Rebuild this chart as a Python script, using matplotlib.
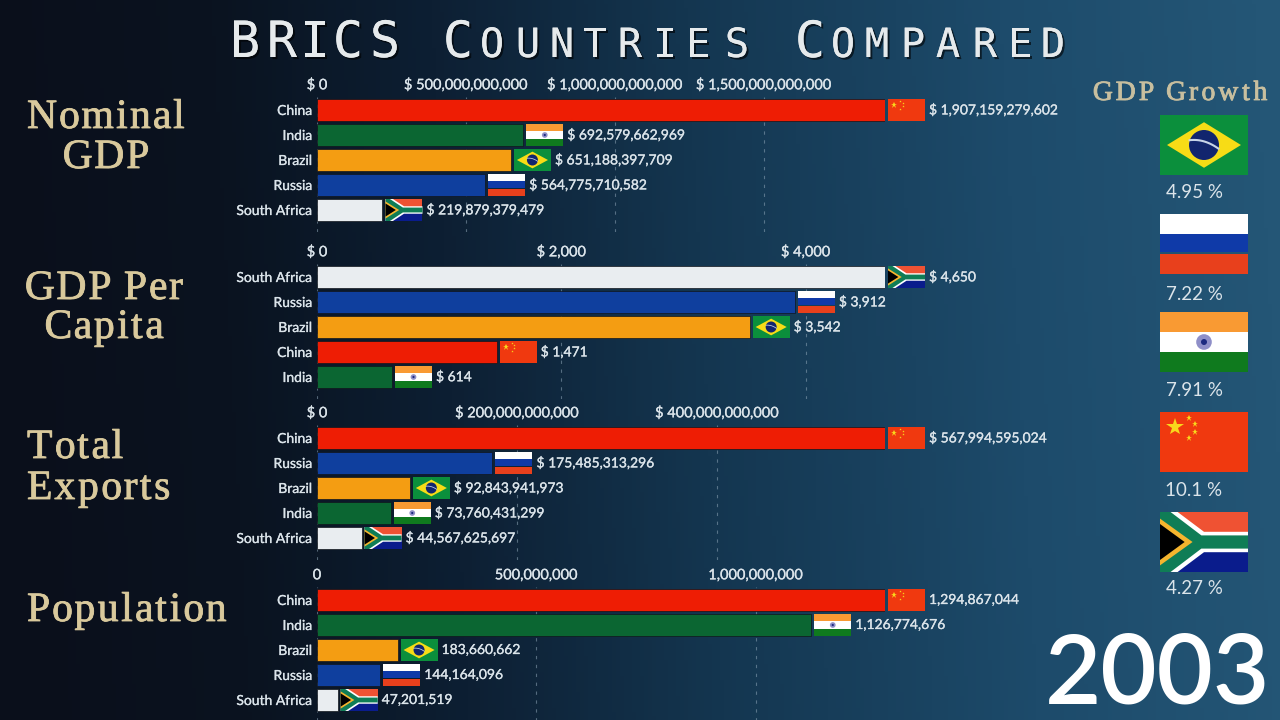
import matplotlib
matplotlib.use('Agg')
import matplotlib.pyplot as plt
import matplotlib.patheffects as pe
from matplotlib.colors import LinearSegmentedColormap
from matplotlib.font_manager import FontProperties
from matplotlib.patches import Circle, Polygon, Rectangle
from matplotlib.textpath import TextPath
import numpy as np

W, H = 1280, 720

# data
gdp_names = ['China', 'India', 'Brazil', 'Russia', 'South Africa']
gdp_values = [1907159279602, 692579662969, 651188397709, 564775710582, 219879379479]
gdp_ticks = [0, 500000000000, 1000000000000, 1500000000000]

cap_names = ['South Africa', 'Russia', 'Brazil', 'China', 'India']
cap_values = [4650, 3912, 3542, 1471, 614]
cap_ticks = [0, 2000, 4000]

exp_names = ['China', 'Russia', 'Brazil', 'India', 'South Africa']
exp_values = [567994595024, 175485313296, 92843941973, 73760431299, 44567625697]
exp_ticks = [0, 200000000000, 400000000000]

pop_names = ['China', 'India', 'Brazil', 'Russia', 'South Africa']
pop_values = [1294867044, 1126774676, 183660662, 144164096, 47201519]
pop_ticks = [0, 500000000, 1000000000]

growth_names = ['Brazil', 'Russia', 'India', 'China', 'South Africa']
growth_labels = ['4.95 %', '7.22 %', '7.91 %', '10.1 %', '4.27 %']
year = '2003'

bar_colors = {'China': '#ee1d04', 'India': '#0b6632', 'Brazil': '#f49d12',
              'Russia': '#0f3f9e', 'South Africa': '#e9edf0'}

TEXT = '#dbe4ea'
TAN = '#d9c99c'
fat = [pe.withStroke(linewidth=0.2, foreground=TEXT)]

fig = plt.figure(figsize=(12.8, 7.2), dpi=100)

# background
bg = fig.add_axes([0, 0, 1, 1], zorder=-1)
cmap = LinearSegmentedColormap.from_list('bg', [(0, '#0a0f1b'), (0.18, '#0a1320'), (0.35, '#0d1f33'),
                                                (0.55, '#143650'), (0.8, '#1d4b6b'), (1, '#245676')])
xx, yy = np.meshgrid(np.linspace(0, 1, 320), np.linspace(0, 1, 180))
bg.imshow(xx + 0.03 * (0.5 - yy), cmap=cmap, vmin=0, vmax=1, aspect='auto', extent=[0, 1, 1, 0])
bg.axis('off')

# everything in screen pixels goes here
ov = fig.add_axes([0, 0, 1, 1], zorder=5)
ov.set_xlim(0, W)
ov.set_ylim(H, 0)
ov.axis('off')
ov.patch.set_alpha(0)


def flag_poly(x, y, w, h, pts, color):
    ov.add_patch(Polygon([(x + a * w, y + b * h) for a, b in pts], closed=True, fc=color, ec='none'))


def stripe(x, y, w, h, a, b, color):
    ov.add_patch(Rectangle((x, y + a * h), w, (b - a) * h, fc=color, ec='none'))


def draw_flag(name, x, y, w, h):
    if name == 'China':
        stripe(x, y, w, h, 0, 1, '#f0390f')
        ov.plot(x + 0.17 * w, y + 0.25 * h, marker='*', ms=h * 0.22, color='#f8d81c', mew=0)
        for a, b in [(0.33, 0.1), (0.4, 0.2), (0.4, 0.34), (0.33, 0.44)]:
            ov.plot(x + a * w, y + b * h, marker='*', ms=h * 0.08, color='#f8d81c', mew=0)
    elif name == 'India':
        stripe(x, y, w, h, 0, 0.33, '#f99a33')
        stripe(x, y, w, h, 0.33, 0.67, '#ffffff')
        stripe(x, y, w, h, 0.67, 1, '#0f7a1e')
        ov.add_patch(Circle((x + w / 2, y + h / 2), h * 0.13, fc='#8f8fc8', ec='none'))
        ov.add_patch(Circle((x + w / 2, y + h / 2), h * 0.05, fc='#1c2a80', ec='none'))
    elif name == 'Brazil':
        stripe(x, y, w, h, 0, 1, '#0b8f3c')
        flag_poly(x, y, w, h, [(0.08, 0.5), (0.5, 0.12), (0.92, 0.5), (0.5, 0.88)], '#f7dc16')
        ov.add_patch(Circle((x + w / 2, y + h / 2), h * 0.25, fc='#12256e', ec='none'))
        t = np.linspace(-1, 1, 20)
        ov.plot(x + w / 2 + t * h * 0.24, y + h * (0.44 + 0.07 * t + 0.05 * t * t), color='#c8d4e8', lw=h * 0.025)
    elif name == 'Russia':
        stripe(x, y, w, h, 0, 0.33, '#ffffff')
        stripe(x, y, w, h, 0.34, 0.64, '#0f3aa8')
        stripe(x, y, w, h, 0.67, 1, '#e8401c')
    else:
        stripe(x, y, w, h, 0, 0.5, '#ef5233')
        stripe(x, y, w, h, 0.5, 1, '#0a1c8c')
        flag_poly(x, y, w, h, [(0, 0), (0.2, 0), (0.5, 0.33), (1, 0.33), (1, 0.67),
                               (0.5, 0.67), (0.2, 1), (0, 1)], '#ffffff')
        flag_poly(x, y, w, h, [(0, 0), (0.12, 0), (0.47, 0.39), (1, 0.39), (1, 0.61),
                               (0.47, 0.61), (0.12, 1), (0, 1)], '#0f7d56')
        flag_poly(x, y, w, h, [(0, 0.11), (0.37, 0.5), (0, 0.89)], '#f5b52e')
        flag_poly(x, y, w, h, [(0, 0.2), (0.28, 0.5), (0, 0.8)], '#000000')


def spaced(x, y, s, size, gap, family, color, center=False):
    # letter by letter so the tracking can be set
    fp = FontProperties(family=family, size=size)
    px = size * 100 / 72
    widths = []
    for c in s:
        if c == ' ':
            widths.append(px * 0.25)
        else:
            widths.append(TextPath((0, 0), c + '|', size=px, prop=fp).get_extents().width
                          - TextPath((0, 0), '|', size=px, prop=fp).get_extents().width)
    total = sum(widths) + gap * (len(s) - 1)
    if center:
        x = x - total / 2
    for c, w in zip(s, widths):
        ov.text(x, y, c, family=family, fontsize=size, color=color, ha='left', va='baseline',
                path_effects=[pe.withStroke(linewidth=0.6, foreground=color)])
        x += w + gap


def dollar(v):
    return f'$ {v:,}'


def plain(v):
    return f'{v:,}'


panels = [
    (gdp_names, gdp_values, gdp_ticks, 110, dollar),
    (cap_names, cap_values, cap_ticks, 277, dollar),
    (exp_names, exp_values, exp_ticks, 438, dollar),
    (pop_names, pop_values, pop_ticks, 600, plain),
]

for names, values, ticks, top, fmt in panels:
    y0 = top - 13.5
    y1 = top + 122
    ax = fig.add_axes([317 / W, 1 - y1 / H, 568 / W, (y1 - y0) / H], zorder=2)
    ax.patch.set_alpha(0)
    ypos = np.arange(len(names))
    ax.barh(ypos, values, height=0.88, color=[bar_colors[n] for n in names],
            edgecolor='#10151c', linewidth=0.5)
    ax.set_xlim(0, max(values))
    ax.set_ylim((y1 - top) / 25, (y0 - top) / 25)
    ax.xaxis.tick_top()
    ax.set_xticks(ticks)
    ax.set_xticklabels([fmt(t) for t in ticks], family='Lato', fontsize=10.5, color=TEXT, path_effects=fat)
    ax.set_yticks(ypos)
    ax.set_yticklabels(names, family='Lato', fontsize=10, color=TEXT, path_effects=fat)
    ax.tick_params(axis='both', length=0)
    ax.tick_params(axis='x', pad=3)
    ax.tick_params(axis='y', pad=3.5)
    ax.set_axisbelow(True)
    ax.grid(axis='x', color='#8fa6b8', alpha=0.55, lw=0.8, ls=(0, (3, 5)))
    for s in ax.spines.values():
        s.set_visible(False)
    for i, (n, v) in enumerate(zip(names, values)):
        dx, dy = ax.transData.transform((v, i))
        px = dx
        py = H - dy
        draw_flag(n, px + 3, py - 11, 37, 22)
        ov.text(px + 44, py, fmt(v), family='Lato', fontsize=10, color=TEXT, ha='left', va='center', path_effects=fat)

# title, small caps by hand
title_chars = 'BRICSCOUNTRIESCOMPARED'
title_x = [245, 282, 315, 348, 385, 458, 492, 528, 562, 595, 630, 665, 698, 737,
           810, 843, 877, 913, 948, 985, 1020, 1053]
title_big = [0, 1, 2, 3, 4, 5, 14]
shadow = [pe.withSimplePatchShadow(offset=(1.5, -1.5), shadow_rgbFace='black', alpha=0.6), pe.Normal()]
for k, (c, x) in enumerate(zip(title_chars, title_x)):
    ov.text(x, 57, c, family='DejaVu Sans Mono', fontsize=36 if k in title_big else 29,
            color='#e6eaec', ha='center', va='baseline', path_effects=shadow)

# left hand labels
serif = 'Liberation Serif'
spaced(107, 128, 'Nominal', 30, 0, serif, TAN, center=True)
spaced(107, 168, 'GDP', 30, 0, serif, TAN, center=True)
spaced(105, 299, 'GDP Per', 30, 0, serif, TAN, center=True)
spaced(105, 338, 'Capita', 30, 0, serif, TAN, center=True)
spaced(27, 458, 'Total', 30, 0, serif, TAN)
spaced(27, 499, 'Exports', 30, 0, serif, TAN)
spaced(27, 621, 'Population', 30, 0, serif, TAN)

# growth column
spaced(1181, 100, 'GDP Growth', 20, 1.8, serif, '#c8bf9f', center=True)
flag_y = [115, 214, 312, 412, 512]
label_y = [192, 294, 391, 490, 589]
for n, lab, fy, ly in zip(growth_names, growth_labels, flag_y, label_y):
    draw_flag(n, 1160, fy, 88, 60)
    ov.text(1194, ly, lab, family='Lato', fontsize=13.5, color=TEXT, ha='center', va='center')

ov.text(1158, 703, year, family='Lato', fontsize=70, color='white', ha='center', va='baseline',
        fontweight='semibold')

fig.savefig('out.png', dpi=100)
